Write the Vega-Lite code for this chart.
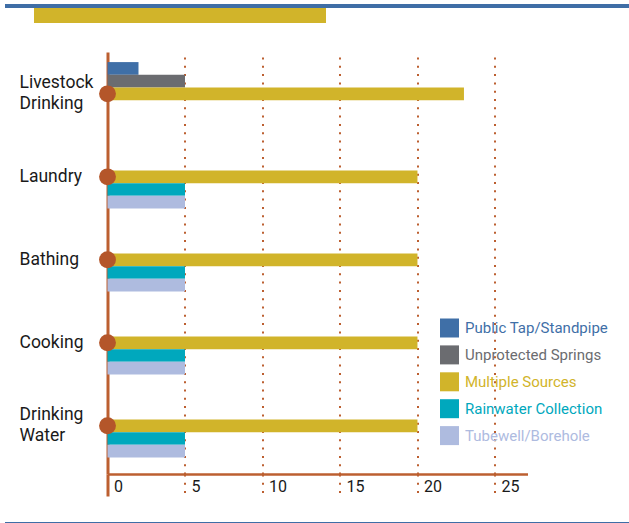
{
  "$schema": "https://vega.github.io/schema/vega-lite/v6.json",
  "padding": {"left": 5, "top": 4, "right": 0, "bottom": 0},
  "background": "white",
  "config": {"font": "Roboto", "view": {"stroke": null}},
  "datasets": {
    "water": [
      {"use": "Livestock Drinking", "source": "Public Tap/Standpipe", "count": 2},
      {"use": "Livestock Drinking", "source": "Unprotected Springs", "count": 5},
      {"use": "Livestock Drinking", "source": "Multiple Sources", "count": 23},
      {"use": "Laundry", "source": "Multiple Sources", "count": 20},
      {"use": "Laundry", "source": "Rainwater Collection", "count": 5},
      {"use": "Laundry", "source": "Tubewell/Borehole", "count": 5},
      {"use": "Bathing", "source": "Multiple Sources", "count": 20},
      {"use": "Bathing", "source": "Rainwater Collection", "count": 5},
      {"use": "Bathing", "source": "Tubewell/Borehole", "count": 5},
      {"use": "Cooking", "source": "Multiple Sources", "count": 20},
      {"use": "Cooking", "source": "Rainwater Collection", "count": 5},
      {"use": "Cooking", "source": "Tubewell/Borehole", "count": 5},
      {"use": "Drinking Water", "source": "Multiple Sources", "count": 20},
      {"use": "Drinking Water", "source": "Rainwater Collection", "count": 5},
      {"use": "Drinking Water", "source": "Tubewell/Borehole", "count": 5}
    ]
  },
  "spacing": 24,
  "resolve": {"scale": {"color": "independent", "yOffset": "independent"}, "legend": {"color": "independent"}},
  "vconcat": [
    {
      "spacing": 0,
      "vconcat": [
        {"width": 624, "height": 4, "view": {"fill": "#3F6EA6", "stroke": null}, "data": {"values": []}, "mark": "point", "encoding": {}},
        {
          "bounds": "flush",
          "spacing": 0,
          "hconcat": [
            {"width": 29, "height": 20, "view": {"fill": "white", "stroke": null}, "data": {"values": []}, "mark": "point", "encoding": {}},
            {"width": 292, "height": 15, "view": {"fill": "#D1B42A", "stroke": null}, "data": {"values": []}, "mark": "point", "encoding": {}}
          ]
        }
      ]
    },
    {
      "bounds": "flush",
      "spacing": 101.5,
      "resolve": {"scale": {"color": "independent", "yOffset": "independent"}, "legend": {"color": "independent"}},
      "hconcat": [
        {
          "width": 1,
          "height": 422,
          "data": {"name": "water"},
          "transform": [{"filter": "datum.source == 'Multiple Sources'"}],
          "mark": {"type": "bar", "opacity": 0},
          "encoding": {
            "y": {
              "field": "use",
              "type": "nominal",
              "scale": {"domain": ["Livestock Drinking", "Laundry", "Bathing", "Cooking", "Drinking Water"], "paddingInner": 0.235, "paddingOuter": 0.16, "align": 0.38},
              "axis": {
                "orient": "right",
                "title": null,
                "domain": false,
                "ticks": false,
                "labelPadding": 13,
                "labelAlign": "left",
                "labelBaseline": "middle",
                "labelFontSize": 17.5,
                "labelLineHeight": 21,
                "labelOffset": {"condition": {"test": "datum.value === 'Livestock Drinking' || datum.value === 'Drinking Water'", "value": -10.5}, "value": 0},
                "labelExpr": "split(datum.label, ' ')",
                "labelColor": "#1a1a1a",
                "labelFont": "Roboto",
                "labelLimit": 0
              }
            }
          }
        },
        {
          "width": 420,
          "height": 422,
          "data": {"name": "water"},
          "layer": [
            {
              "mark": {"type": "bar"},
              "encoding": {
                "y": {
                  "field": "use",
                  "type": "nominal",
                  "scale": {"domain": ["Livestock Drinking", "Laundry", "Bathing", "Cooking", "Drinking Water"], "paddingInner": 0.235, "paddingOuter": 0.16, "align": 0.38},
                  "axis": null
                },
                "yOffset": {
                  "field": "source",
                  "type": "nominal",
                  "scale": {"domain": ["Public Tap/Standpipe", "Unprotected Springs", "Multiple Sources", "Rainwater Collection", "Tubewell/Borehole"], "paddingInner": 0, "paddingOuter": 0}
                },
                "x": {
                  "field": "count",
                  "type": "quantitative",
                  "scale": {"domain": [0, 27.1], "nice": false},
                  "axis": {
                    "values": [0, 5, 10, 15, 20, 25],
                    "title": null,
                    "domainColor": "#BC5F30",
                    "domainWidth": 2.5,
                    "grid": true,
                    "gridColor": "#BC5F30",
                    "gridDash": {"condition": {"test": "datum.value === 0", "value": []}, "value": [2, 6.3]},
                    "gridWidth": {"condition": {"test": "datum.value === 0", "value": 3}, "value": 2},
                    "tickColor": "#BC5F30",
                    "tickSize": 22,
                    "tickDash": {"condition": {"test": "datum.value === 0", "value": []}, "value": [2, 6.3]},
                    "tickWidth": {"condition": {"test": "datum.value === 0", "value": 3}, "value": 2},
                    "labelAlign": "left",
                    "labelOffset": 6,
                    "labelBaseline": "middle",
                    "labelPadding": -10,
                    "labelFontSize": 16,
                    "labelColor": "#1a1a1a",
                    "labelFont": "Roboto",
                    "labelFlush": false
                  }
                },
                "color": {
                  "field": "source",
                  "type": "nominal",
                  "scale": {
                    "domain": ["Public Tap/Standpipe", "Unprotected Springs", "Multiple Sources", "Rainwater Collection", "Tubewell/Borehole"],
                    "range": ["#3F6FA7", "#6B6C70", "#D1B42A", "#00A8BD", "#AEBBDF"]
                  },
                  "legend": {
                    "orient": "none",
                    "legendX": 332.5,
                    "legendY": 266.5,
                    "title": null,
                    "symbolType": "square",
                    "symbolSize": 361,
                    "symbolStrokeWidth": 0,
                    "symbolOpacity": 1,
                    "labelFontSize": 15,
                    "labelFont": "Roboto",
                    "labelOffset": 6,
                    "rowPadding": 7.9,
                    "padding": 0,
                    "labelLimit": 0,
                    "encode": {
                      "labels": {
                        "update": {
                          "fill": {"signal": "datum.value === 'Public Tap/Standpipe' ? '#3F6FA7' : datum.value === 'Unprotected Springs' ? '#6B6C70' : datum.value === 'Multiple Sources' ? '#D1B42A' : datum.value === 'Rainwater Collection' ? '#00A8BD' : '#AEBBDF'"}
                        }
                      }
                    }
                  }
                }
              }
            },
            {
              "transform": [{"filter": "datum.source == 'Multiple Sources'"}],
              "mark": {"type": "circle", "size": 285, "color": "#B4562A", "opacity": 1},
              "encoding": {
                "y": {"field": "use", "type": "nominal"},
                "x": {"datum": 0}
              }
            }
          ]
        }
      ]
    },
    {"width": 624, "height": 3, "view": {"fill": "#3F6EA6", "stroke": null}, "data": {"values": []}, "mark": "point", "encoding": {}}
  ]
}
